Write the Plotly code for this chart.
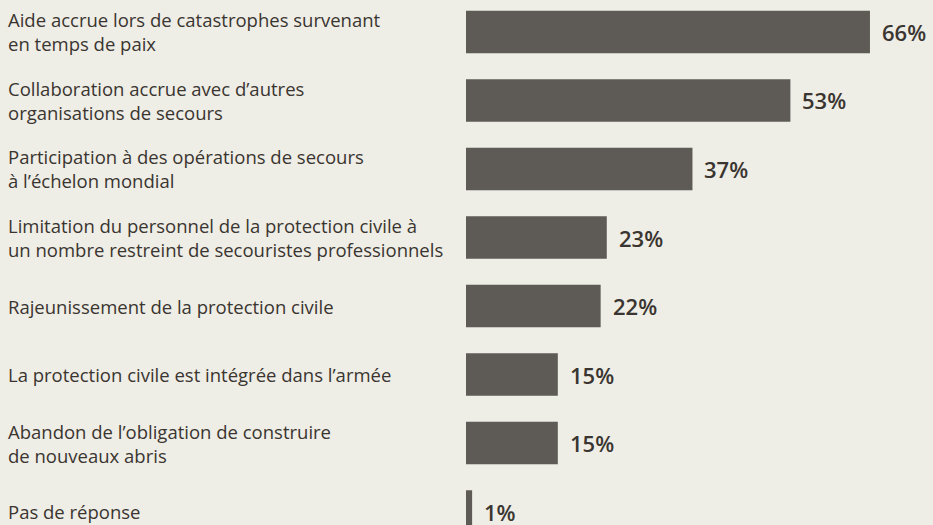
import plotly.graph_objects as go

labels = [
    "Aide accrue lors de catastrophes survenant<br>en temps de paix",
    "Collaboration accrue avec d’autres<br>organisations de secours",
    "Participation à des opérations de secours<br>à l’échelon mondial",
    "Limitation du personnel de la protection civile à<br>un nombre restreint de secouristes professionnels",
    "Rajeunissement de la protection civile",
    "La protection civile est intégrée dans l’armée",
    "Abandon de l’obligation de construire<br>de nouveaux abris",
    "Pas de réponse",
]
values = [66, 53, 37, 23, 22, 15, 15, 1]

BG = "#eeede6"
BAR = "#5e5a56"
TXT = "#3a3530"
FONT = "Open Sans"

fig = go.Figure()

fig.add_bar(
    y=list(range(len(values))), x=values, orientation="h",
    width=0.62, marker_color=BAR, marker_line_width=0,
    hoverinfo="skip"
)

# value labels to the right of each bar
for i, v in enumerate(values):
    fig.add_annotation(
        x=v, y=i, xref="x", yref="y", text="%d%%" % v,
        showarrow=False, xanchor="left", xshift=10,
        font=dict(family=FONT, size=22, color=TXT, weight=600)
    )

# category labels on the left, left aligned
for i, lab in enumerate(labels):
    fig.add_annotation(
        x=0, y=i, xref="paper", yref="y", text=lab,
        showarrow=False, xanchor="left", align="left", xshift=-460,
        font=dict(family=FONT, size=18.5, color=TXT)
    )

fig.update_layout(
    width=933, height=525,
    margin=dict(l=466, r=0, t=0, b=0),
    paper_bgcolor=BG, plot_bgcolor=BG,
    showlegend=False,
    xaxis=dict(range=[0, 76.3], visible=False),
    yaxis=dict(range=[7.197, -0.467], visible=False),
)

fig.write_html("out.html", config={"displayModeBar": False},
               post_script="document.body.style.margin='0';")
